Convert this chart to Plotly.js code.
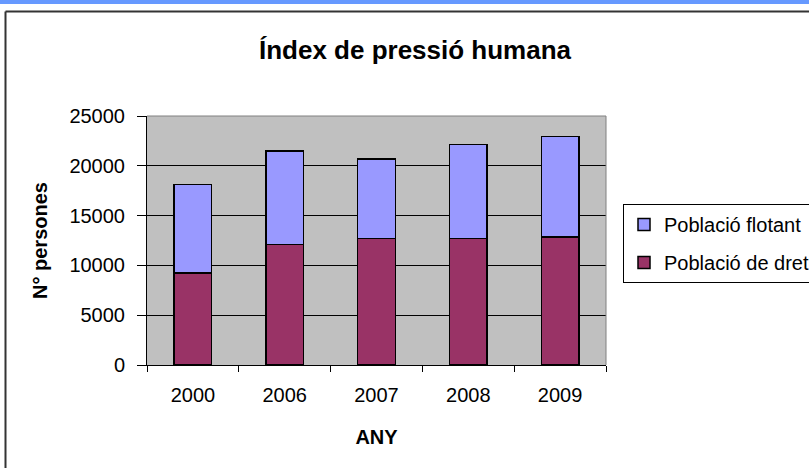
<!DOCTYPE html>
<html>
<head>
<meta charset="utf-8">
<script src="https://cdn.plot.ly/plotly-3.0.1.min.js"></script>
<style>html,body{margin:0;padding:0;background:#fff;}#chart{width:809px;height:468px;}</style>
</head>
<body>
<div id="chart"></div>
<script>
const years = ['2000', '2006', '2007', '2008', '2009'];
const poblacioDret = [9250, 12100, 12700, 12700, 12870];
const poblacioFlotant = [8850, 9400, 8000, 9450, 10080];
const seriesNames = ['Població de dret', 'Població flotant'];
const yTicks = [0, 5000, 10000, 15000, 20000, 25000];

const FONT = 'Liberation Sans, Arial, sans-serif';

const traces = [
  {
    type: 'bar', name: seriesNames[0], x: years, y: poblacioDret,
    legendgroup: 'dret', legendrank: 2,
    marker: {color: '#993366', line: {color: '#000000', width: 1.5}},
    hoverinfo: 'skip'
  },
  {
    type: 'bar', name: seriesNames[1], x: years, y: poblacioFlotant,
    legendgroup: 'flotant', legendrank: 1,
    marker: {color: '#9999ff', line: {color: '#000000', width: 1.5}},
    hoverinfo: 'skip'
  }
];

// pixel -> paper helpers (plot area 147..606 x 116..365)
const L = 147, R = 606, T = 116, B = 365;
const px = v => (v - L) / (R - L);
const py = v => (B - v) / (B - T);

const layout = {
  width: 809, height: 468,
  margin: {l: L, r: 809 - R, t: T, b: 468 - B, autoexpand: false},
  paper_bgcolor: '#ffffff',
  plot_bgcolor: '#c0c0c0',
  barmode: 'stack',
  bargap: 0.59,
  showlegend: true,
  font: {family: FONT, color: '#000000', size: 20},
  title: {
    text: '<b>Índex de pressió humana</b>',
    font: {family: FONT, size: 26, color: '#000000'},
    x: 415 / 809, xanchor: 'center', xref: 'container',
    y: 1 - 50 / 468, yanchor: 'middle', yref: 'container'
  },
  xaxis: {
    type: 'category',
    tickson: 'boundaries',
    ticks: 'outside', ticklen: 6, tickcolor: '#000000', tickwidth: 1,
    showline: true, linecolor: '#000000', linewidth: 1,
    showgrid: false,
    ticklabelstandoff: 12,
    tickfont: {family: FONT, size: 20, color: '#000000'},
    title: {text: '<b>ANY</b>', font: {family: FONT, size: 20, color: '#000000'}, standoff: 24}
  },
  yaxis: {
    range: [0, 25000],
    tickvals: yTicks,
    ticktext: yTicks.map(String),
    ticks: 'outside', ticklen: 9, tickcolor: '#000000', tickwidth: 1,
    showline: true, linecolor: '#000000', linewidth: 1,
    showgrid: true, gridcolor: '#000000', gridwidth: 1,
    zeroline: false,
    ticklabelstandoff: 8,
    tickfont: {family: FONT, size: 20, color: '#000000'},
    title: {text: '<b>N° persones</b>', font: {family: FONT, size: 20, color: '#000000'}, standoff: 16}
  },
  legend: {
    x: px(623), xanchor: 'left',
    y: py(204), yanchor: 'top',
    xref: 'paper', yref: 'paper',
    bgcolor: '#ffffff',
    bordercolor: '#000000', borderwidth: 1,
    traceorder: 'grouped',
    tracegroupgap: 9,
    font: {family: FONT, size: 20, color: '#000000'}
  },
  shapes: [
    // top blue band
    {type: 'rect', xref: 'paper', yref: 'paper', x0: px(-5), x1: px(820), y0: py(4), y1: py(-5),
     fillcolor: '#6699ff', line: {width: 0}, layer: 'above'},
    // outer chart frame
    {type: 'line', xref: 'paper', yref: 'paper', x0: px(5.5), x1: px(820), y0: py(11.5), y1: py(11.5),
     line: {color: '#333333', width: 2}},
    {type: 'line', xref: 'paper', yref: 'paper', x0: px(5.5), x1: px(5.5), y0: py(11.5), y1: py(480),
     line: {color: '#333333', width: 2}},
    // plot area top / right border (grey)
    {type: 'line', xref: 'paper', yref: 'paper', x0: 0, x1: 1, y0: 1, y1: 1,
     line: {color: '#808080', width: 1}, layer: 'above'},
    {type: 'line', xref: 'paper', yref: 'paper', x0: 1, x1: 1, y0: 0, y1: 1,
     line: {color: '#808080', width: 1}, layer: 'above'}
  ]
};

Plotly.newPlot('chart', traces, layout, {staticPlot: true, displayModeBar: false});
</script>
</body>
</html>
